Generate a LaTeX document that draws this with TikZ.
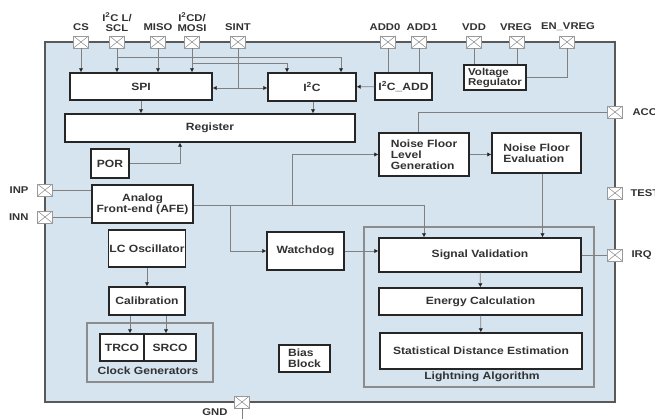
\documentclass[tikz,border=0pt]{standalone}
\usepackage{fontspec}
\setmainfont{Liberation Sans}[FakeStretch=1.15]
\usepackage{tikz}
\usetikzlibrary{arrows.meta,calc,positioning}
\definecolor{chipbg}{RGB}{214,228,239}
\definecolor{wirec}{RGB}{128,128,128}
\definecolor{txt}{RGB}{50,50,50}

\begin{document}
\begin{tikzpicture}
[x=1pt,y=-1pt, >={Latex[length=4pt,width=4.5pt,black!85]},
	every node/.style={font=\fontsize{10.5}{11}\selectfont\bfseries, text=txt},
	pinlbl/.style={font=\fontsize{9.8}{10}\selectfont\bfseries, align=center},
	blk/.style={draw=black!85, line width=1.4pt, fill=white, inner sep=1pt, align=center},
	grp/.style={draw=black!45, line width=1.1pt},
	pad/.style={draw=black!40, fill=white, line width=0.6pt, minimum width=15pt,
		minimum height=12pt, inner sep=0pt,
		path picture={\draw[black!40, line width=0.6pt]
			(path picture bounding box.south west) -- (path picture bounding box.north east)
			(path picture bounding box.north west) -- (path picture bounding box.south east);}},
	wire/.style={draw=wirec, line width=0.8pt}]

\useasboundingbox (0,0) rectangle (655,419);

\draw[draw=black!65, line width=1.6pt, fill=chipbg] (45,42) rectangle (615,402);
\draw[grp] (87,323) rectangle (213,382);
\draw[grp] (364,227) rectangle (594,387);

\node (spi) at (141,86.5)[blk, minimum width=142pt, minimum height=27pt] {SPI};
\node (i2c) at (312,87)[blk, minimum width=88pt, minimum height=28pt] {I\textsuperscript{2}C};
\node (i2cadd) at (403.5,86.5)[blk, minimum width=57pt, minimum height=27pt] {I\textsuperscript{2}C\_ADD};
\node (vreg) at (495,77.5)[blk, align=left, minimum width=62pt, minimum height=25pt,
	font=\fontsize{10}{10}\selectfont\bfseries] {Voltage\\Regulator};
\node (reg) at (210,128)[blk, minimum width=290pt, minimum height=28pt] {Register};
\node (por) at (110,163.5)[blk, minimum width=38pt, minimum height=29pt] {POR};
\node (afe) at (142.5,204)[blk, minimum width=101pt, minimum height=38pt] {Analog\\Front-end (AFE)};
\node (lco) at (147,248.5)[blk, minimum width=76pt, minimum height=37pt] {LC Oscillator};
\node (cal) at (147,301)[blk, minimum width=76pt, minimum height=28pt] {Calibration};
\node (trco) at (122,347.5)[blk, minimum width=44pt, minimum height=27pt] {TRCO};
\node (srco) at (170,347.5)[blk, minimum width=52pt, minimum height=27pt] {SRCO};
\node (clk) at (148,371) {Clock Generators};
\node (bias) at (304.5,358.5)[blk, align=left, minimum width=51pt, minimum height=27pt] {Bias\\Block};
\node (wdg) at (305.5,251)[blk, minimum width=77pt, minimum height=38pt] {Watchdog};
\node (nflg) at (424,154.5)[blk, align=left, minimum width=90pt, minimum height=43pt] {Noise Floor\\Level\\Generation};
\node (nfe) at (536.5,153)[blk, align=left, minimum width=89pt, minimum height=40pt] {Noise Floor\\Evaluation};
\node (sv) at (480,255)[blk, minimum width=202pt, minimum height=34pt] {Signal Validation};
\node (ec) at (480.5,301.5)[blk, minimum width=203pt, minimum height=27pt] {Energy Calculation};
\node (sde) at (481,351)[blk, minimum width=202pt, minimum height=36pt] {Statistical Distance Estimation};
\node (alg) at (482,377) {Lightning Algorithm};

\node (pcs) at (81,42)[pad] {};
\node (pscl) at (117,42)[pad] {};
\node (pmiso) at (158,42)[pad] {};
\node (pmosi) at (192,42)[pad] {};
\node (psint) at (238,42)[pad] {};
\node (padd0) at (388,42)[pad] {};
\node (padd1) at (419,42)[pad] {};
\node (pvdd) at (474,42)[pad] {};
\node (pvreg) at (517,42)[pad] {};
\node (penv) at (567,42)[pad] {};
\node (pacc) at (615,112)[pad] {};
\node (ptest) at (615,193)[pad] {};
\node (pirq) at (615,255)[pad] {};
\node (pinp) at (45,190)[pad] {};
\node (pinn) at (45,217)[pad] {};
\node (pgnd) at (242,402)[pad] {};

\node (lcs) at (81,27)[pinlbl] {CS};
\node (lscl) at (117,22)[pinlbl] {I\textsuperscript{2}C L/\\SCL};
\node (lmiso) at (158,27)[pinlbl] {MISO};
\node (lmosi) at (192,22)[pinlbl] {I\textsuperscript{2}CD/\\MOSI};
\node (lsint) at (238,27)[pinlbl] {SINT};
\node (ladd0) at (385,27)[pinlbl] {ADD0};
\node (ladd1) at (422,27)[pinlbl] {ADD1};
\node (lvdd) at (474,27)[pinlbl] {VDD};
\node (lvreg) at (516,27)[pinlbl] {VREG};
\node (lenv) at (568,27)[pinlbl] {EN\_VREG};
\node (lacc) at (629,112)[pinlbl, anchor=west] {ACC};
\node (ltest) at (627,193)[pinlbl, anchor=west] {TEST};
\node (lirq) at (628,255)[pinlbl, anchor=west] {IRQ};
\node (linp) at (32,190)[pinlbl, anchor=east] {INP};
\node (linn) at (32,217)[pinlbl, anchor=east] {INN};
\node (lgnd) at (215,412)[pinlbl] {GND};

\coordinate (sclj) at (117,57);
\coordinate (mosij) at (192,63);
\coordinate (sintj) at (238,88);
\coordinate (afej1) at (230,205);
\coordinate (afej2) at (292,205);
\coordinate (gndend) at (242,419);

\draw[wire,->] (pcs) -- (pcs |- spi.north);
\draw[wire,->] (pscl) -- (pscl |- spi.north);
\draw[wire,->] (pmiso) -- (pmiso |- spi.north);
\draw[wire,->] (pmosi) -- (pmosi |- spi.north);
\draw[wire,->] (sclj) -| ([xshift=29pt]i2c.north);
\draw[wire,->] (mosij) -| ([xshift=-25pt]i2c.north);
\draw[wire] (psint) -- (sintj);
\draw[wire,->] (sintj) -- (sintj -| spi.east);
\draw[wire,->] (sintj) -- (sintj -| i2c.west);
\draw[wire] (padd0) -- (padd0 |- i2cadd.north);
\draw[wire] (padd1) -- (padd1 |- i2cadd.north);
\draw[wire,->] (i2cadd) -- (i2c);
\draw[wire] (pvdd) -- (pvdd |- vreg.north);
\draw[wire] (pvreg) -- (pvreg |- vreg.north);
\draw[wire] (penv) |- (vreg.east);

\draw[wire,->] (spi) -- (spi |- reg.north);
\draw[wire,->] ([xshift=1pt]i2c.south) -- ([xshift=1pt]i2c.south |- reg.north);
\draw[wire,->] (por) -| ([xshift=-30pt]reg.south);

\draw[wire] (pinp) -- (pinp -| afe.west);
\draw[wire] (pinn) -- (pinn -| afe.west);
\draw[wire,->] (afe.east |- afej1) -| ([xshift=-56pt]sv.north);
\draw[wire,->] (afej1) |- (wdg.west);
\draw[wire,->] (afej2) |- (nflg.west);
\draw[wire,->] (wdg.east) -- (wdg.east -| sv.west);
\draw[wire,->] (nflg.east) -- (nflg.east -| nfe.west);
\draw[wire] (pacc) -| ([xshift=-6pt]nflg.north);
\draw[wire,->] ([xshift=6pt]nfe.south) -- ([xshift=6pt]nfe.south |- sv.north);
\draw[wire] (sv.east) -- (pirq);
\draw[wire,->] (sv) -- (ec);
\draw[wire,->] (ec) -- (sde);

\draw[wire,->] (lco) -- (cal);
\draw[wire,->] ([xshift=-17pt]cal.south) -- ([xshift=-17pt]cal.south |- trco.north);
\draw[wire,->] ([xshift=19pt]cal.south) -- ([xshift=19pt]cal.south |- srco.north);
\draw[wire, line width=0.5pt] (pgnd) -- (gndend);

\end{tikzpicture}
\end{document}
